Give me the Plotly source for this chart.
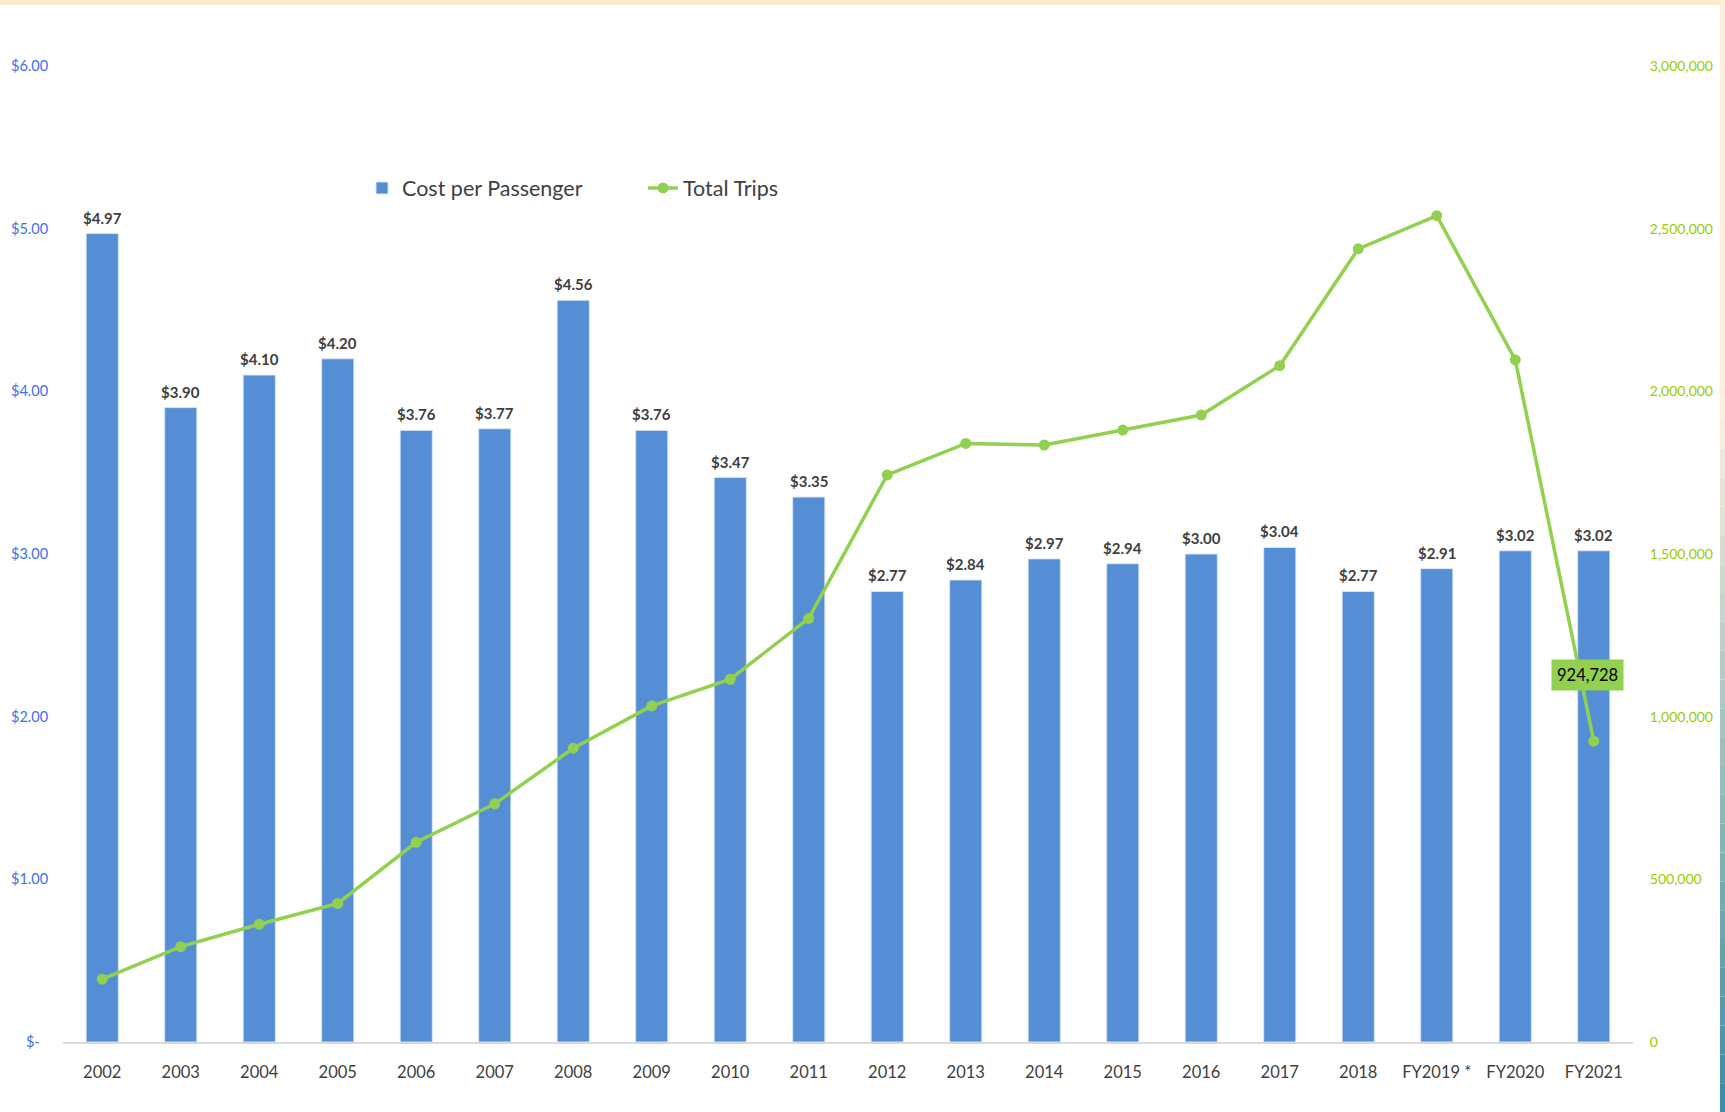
import plotly.graph_objects as go

categories = ["2002", "2003", "2004", "2005", "2006", "2007", "2008", "2009", "2010", "2011",
              "2012", "2013", "2014", "2015", "2016", "2017", "2018", "FY2019 *", "FY2020", "FY2021"]
cost_per_passenger = [4.97, 3.90, 4.10, 4.20, 3.76, 3.77, 4.56, 3.76, 3.47, 3.35,
                      2.77, 2.84, 2.97, 2.94, 3.00, 3.04, 2.77, 2.91, 3.02, 3.02]
total_trips = [193000, 293000, 362000, 426000, 614000, 732000, 903000, 1033000, 1115000, 1302000,
               1743000, 1840000, 1835000, 1881000, 1927000, 2079000, 2438000, 2540000, 2097000, 924728]
left_tickvals = [0, 1, 2, 3, 4, 5, 6]
left_ticktext = ["$-\u2007", "$1.00", "$2.00", "$3.00", "$4.00", "$5.00", "$6.00"]
right_tickvals = [0, 500000, 1000000, 1500000, 2000000, 2500000, 3000000]
highlight_label = "924,728"

FONT = "Lato, 'Open Sans', sans-serif"
W, H = 1725, 1112
ML, MR, MT, MB = 63, 92, 66, 70
PW, PH = W - ML - MR, H - MT - MB

def px(x):
    return (x - ML) / PW

def py(y):
    return (H - MB - y) / PH

fig = go.Figure()
fig.add_trace(go.Bar(
    x=categories, y=cost_per_passenger, name="Cost per Passenger",
    marker=dict(color="#558ED5", line=dict(color="rgba(220,232,248,0.9)", width=1)),
    hoverinfo="skip",
))
fig.add_trace(go.Scatter(
    x=categories, y=total_trips, name="Total Trips", yaxis="y2",
    mode="lines+markers",
    line=dict(color="#92D050", width=3.5),
    marker=dict(color="#92D050", size=11),
    hoverinfo="skip",
))

annotations = []
for i, v in enumerate(cost_per_passenger):
    annotations.append(dict(
        x=i, y=v, xref="x", yref="y", text=f"${v:.2f}", showarrow=False,
        yanchor="bottom", yshift=5,
        font=dict(family=FONT, size=15, color="#404040", weight="bold"),
    ))
annotations.append(dict(
    x=len(categories) - 1, y=total_trips[-1], xref="x", yref="y2", text=highlight_label,
    showarrow=False, bgcolor="#92D050", borderpad=5,
    xshift=-6, yshift=66,
    font=dict(family=FONT, size=16.5, color="#000000"),
))

shapes = []
# top beige band
shapes.append(dict(type="rect", xref="paper", yref="paper", x0=px(0), x1=px(W), y0=py(5), y1=py(0),
                   fillcolor="#FDEACD", line=dict(width=0), layer="above"))
# right edge band: beige on top, fading to teal
shapes.append(dict(type="rect", xref="paper", yref="paper", x0=px(1720), x1=px(W), y0=py(420), y1=py(0),
                   fillcolor="#FDEFDC", line=dict(width=0), layer="above"))
c0 = (253, 239, 220)
c1 = (58, 140, 160)
steps = 24
y_start, y_end = 420, H
for k in range(steps):
    t = (k + 0.5) / steps
    col = tuple(int(c0[j] + (c1[j] - c0[j]) * t) for j in range(3))
    ya = y_start + (y_end - y_start) * k / steps
    yb = y_start + (y_end - y_start) * (k + 1) / steps
    shapes.append(dict(type="rect", xref="paper", yref="paper", x0=px(1720), x1=px(W),
                       y0=py(yb), y1=py(ya), fillcolor="rgb(%d,%d,%d)" % col,
                       line=dict(width=0), layer="above"))

fig.update_layout(
    width=W, height=H,
    margin=dict(l=ML, r=MR, t=MT, b=MB),
    paper_bgcolor="white", plot_bgcolor="white",
    bargap=0.59,
    showlegend=True,
    legend=dict(orientation="h", x=px(362), y=py(188), xanchor="left", yanchor="middle",
                font=dict(family=FONT, size=21.5, color="#404040"),
                entrywidth=236, entrywidthmode="pixels", bgcolor="rgba(0,0,0,0)",
                traceorder="normal"),
    xaxis=dict(type="category", range=[-0.5, len(categories) - 0.5], automargin=False,
               showline=True, linecolor="#D9D9D9", linewidth=1.5, showgrid=False, zeroline=False,
               ticks="outside", ticklen=14, tickcolor="rgba(0,0,0,0)",
               tickfont=dict(family=FONT, size=16.5, color="#404040")),
    yaxis=dict(range=[0, 6], tickvals=left_tickvals, ticktext=left_ticktext, automargin=False,
               showgrid=False, zeroline=False, showline=False,
               ticks="outside", ticklen=11, tickcolor="rgba(0,0,0,0)",
               tickfont=dict(family=FONT, size=14.5, color="#3F6FF0")),
    yaxis2=dict(range=[0, 3000000], tickvals=right_tickvals, tickformat=",", automargin=False,
                overlaying="y", side="right", showgrid=False, zeroline=False, showline=False,
                ticks="outside", ticklen=13, tickcolor="rgba(0,0,0,0)",
                tickfont=dict(family=FONT, size=14, color="#99CC00")),
    annotations=annotations,
    shapes=shapes,
)

fig.write_html("out.html", config={"displayModeBar": False},
               post_script="document.body.style.margin='0';")
